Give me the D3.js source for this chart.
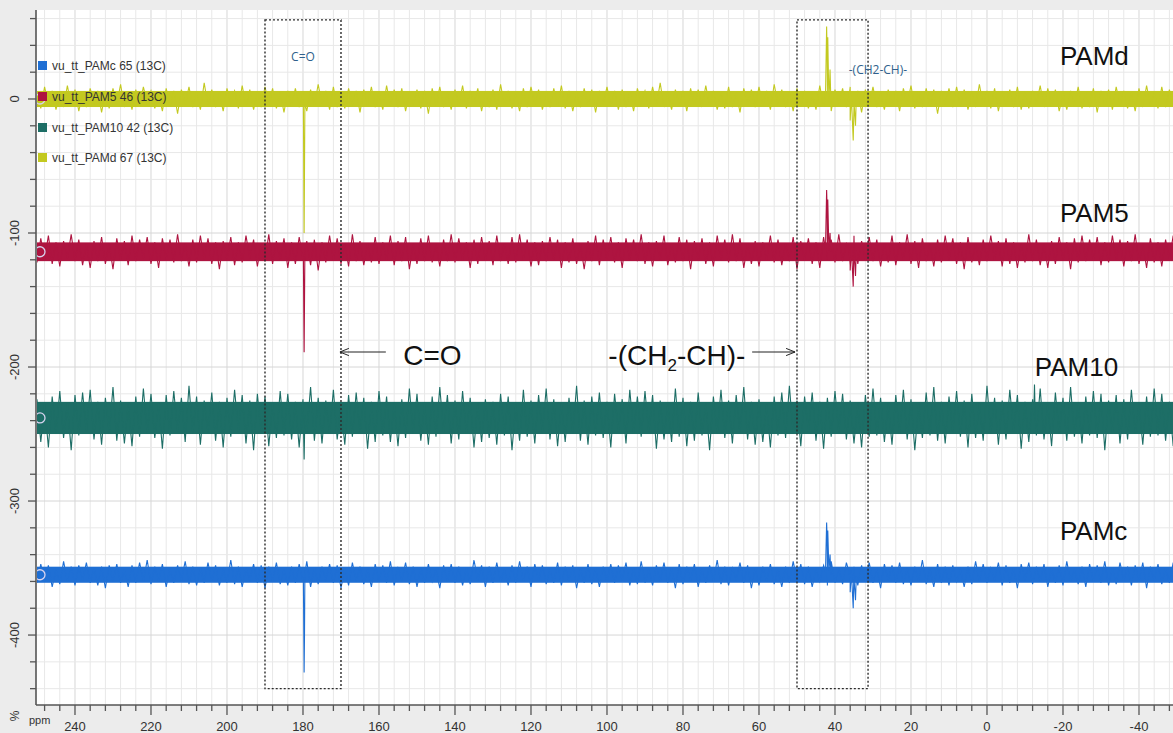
<!DOCTYPE html>
<html>
<head>
<meta charset="utf-8">
<script src="https://cdn.jsdelivr.net/npm/d3@7"></script>
<style>
  html, body { margin: 0; padding: 0; background: #ececec; }
  svg { display: block; font-family: "Liberation Sans", Arial, sans-serif; }
</style>
</head>
<body>
<svg id="chart" width="1173" height="733"></svg>
<script>
// ---- Spectra: 13C stacked plot, four samples ----
const seriesNames = ["PAMc", "PAM5", "PAM10", "PAMd"];
const legendLabels = ["vu_tt_PAMc 65 (13C)", "vu_tt_PAM5 46 (13C)", "vu_tt_PAM10 42 (13C)", "vu_tt_PAMd 67 (13C)"];
const seriesColors = ["#1f6fd4", "#ae1440", "#1d6e66", "#c3c920"];
// vertical offset (%) of each stacked trace
const baselines = [-355, -114, -238, 0];
// typical noise half-width (%) of each trace
const noiseLevels = [6, 7, 12, 6];

// noise excursions from the baseline, sampled every 1 ppm from 250 ppm downward
const noiseStartPpm = 250;
const noiseStepPpm = 1;
const noisePAMc = [
  -6,8,-5,7,-9,4,-7,10,-5,6,-8,7,-4,9,-6,5,-8,6,-10,7,
  -5,8,-6,4,-9,7,-6,9,-5,11,-7,6,-5,8,-9,5,-6,7,-4,10,
  -7,6,-8,5,-6,9,-5,7,-8,4,-6,11,-7,6,-9,5,-4,8,-6,7,
  -10,6,-5,9,-7,4,-8,6,-6,8,-5,10,-9,5,-7,6,-4,8,-6,7,
  -10,5,-8,9,-5,6,-7,4,-9,8,-5,7,-6,10,-8,5,-4,9,-7,6,
  -9,5,-6,8,-5,4,-10,7,-5,8,-6,6,-8,5,-7,11,-4,7,-9,6,
  -6,9,-5,4,-8,7,-6,10,-5,6,-9,8,-4,7,-7,5,-6,9,-8,6,
  -5,7,-10,4,-6,8,-7,5,-9,6,-5,8,-6,7,-4,9,-8,5,-7,10,
  -6,4,-8,7,-5,9,-6,5,-10,8,-7,6,-4,8,-9,5,-6,7,-5,11,
  -7,6,-8,5,-4,9,-6,7,-10,5,-8,6,-5,8,-7,4,-9,6,-6,10,
  -5,8,-7,6,-9,4,-5,7,-8,10,-6,5,-7,9,-4,6,-8,7,-5,9,
  -6,5,-10,8,-4,7,-6,9,-7,5,-8,6,-5,11,-7,4,-9,8,-6,6,
  -8,7,-5,4,-9,6,-7,10,-5,8,-6,5,-4,9,-8,7,-6,5,-10,8,
  -4,9,-7,6,-5,8,-9,5,-6,7,-8,10,-5,4,-7,6,-9,8,-5,7,
  -6,10,-8,5,-7,9,-4,6,-8,7,-5,9,-10,6,-4,8,-7,5,-6,9,
  -5];
const noisePAM5 = [
  -8,10,-6,12,-9,7,-11,8,-5,13,-7,9,-10,6,-12,8,-7,11,-9,6,
  -13,10,-6,8,-10,12,-7,9,-5,11,-9,7,-12,10,-6,9,-8,13,-7,6,
  -11,9,-8,12,-6,10,-9,7,-13,8,-6,11,-10,7,-8,12,-5,9,-11,6,
  -7,13,-9,8,-6,10,-12,7,-9,11,-6,8,-10,9,-14,7,-8,12,-6,10,
  -9,6,-11,13,-7,8,-10,6,-8,11,-9,7,-6,12,-10,8,-7,11,-13,6,
  -9,10,-7,12,-8,6,-11,9,-7,13,-8,10,-6,7,-12,9,-9,11,-6,8,
  -10,12,-7,6,-9,11,-8,13,-6,9,-11,7,-10,8,-7,11,-6,9,-12,7,
  -8,10,-9,6,-13,8,-7,12,-10,9,-6,11,-8,7,-12,10,-6,9,-7,13,
  -9,7,-11,8,-6,12,-10,6,-8,11,-7,9,-13,8,-6,10,-9,7,-11,12,
  -6,9,-8,13,-7,10,-12,6,-9,8,-11,7,-6,12,-8,9,-10,6,-7,11,
  -13,8,-6,10,-9,7,-12,11,-6,9,-8,13,-7,6,-10,12,-9,8,-6,11,
  -7,9,-11,6,-8,12,-10,7,-6,13,-9,8,-12,10,-7,6,-11,9,-8,12,
  -6,10,-9,7,-13,11,-8,6,-10,9,-7,12,-6,8,-11,10,-9,7,-12,6,
  -8,13,-7,9,-10,6,-12,8,-9,11,-6,7,-13,10,-8,12,-7,9,-6,11,
  -10,7,-8,12,-6,9,-11,8,-7,13,-9,6,-12,10,-8,7,-11,9,-6,12,
  -7];
const noisePAM10 = [
  14,-18,10,-22,16,-12,20,-15,11,-24,17,-13,19,-10,21,-16,12,-20,15,-11,
  23,-17,13,-19,10,-21,16,-14,22,-12,18,-15,11,-23,17,-13,20,-10,15,-18,
  24,-12,16,-20,13,-11,19,-17,12,-22,15,-14,21,-10,17,-19,13,-24,18,-12,
  16,-21,11,-15,20,-13,18,-16,12,-22,14,-11,23,-17,15,-19,13,-12,21,-16,
  10,-20,17,-14,19,-11,15,-23,12,-18,20,-13,16,-18,11,-21,14,-15,22,-12,
  18,-17,10,-20,16,-14,23,-11,17,-19,13,-16,20,-12,15,-22,11,-18,14,-15,
  12,-20,18,-13,16,-24,10,-17,21,-14,13,-19,17,-11,22,-16,14,-21,11,-18,
  15,-12,24,-17,13,-20,16,-13,19,-15,12,-22,18,-10,14,-19,21,-12,16,-14,
  20,-11,17,-23,13,-16,10,-18,22,-14,15,-21,12,-17,19,-13,11,-24,16,-12,
  21,-15,13,-19,17,-11,23,-16,12,-20,14,-18,10,-22,16,-13,19,-15,24,-12,
  13,-21,16,-10,19,-17,12,-23,15,-14,20,-11,18,-16,13,-19,11,-22,17,-14,
  22,-13,15,-18,11,-20,17,-12,21,-16,14,-24,10,-15,19,-13,23,-17,12,-19,
  16,-11,20,-14,13,-22,18,-15,11,-17,24,-12,15,-20,13,-16,21,-10,17,-23,
  12,-18,14,-13,22,-16,10,-21,19,-12,15,-17,23,-14,11,-19,16,-13,20,-15,
  18,-24,13,-11,17,-19,14,-16,21,-12,10,-20,16,-14,22,-13,18,-17,12,-21,
  15];
const noisePAMd = [
  5,-7,9,-4,6,-8,3,-6,10,-5,7,-9,4,-6,8,-3,6,-10,5,-7,
  8,-4,11,-6,5,-8,7,-5,9,-3,6,-7,4,-9,8,-5,6,-11,7,-4,
  9,-6,5,-8,12,-5,7,-6,4,-9,8,-3,6,-7,10,-5,7,-8,5,-6,
  9,-4,8,-7,5,-10,6,-5,8,-6,4,-9,7,-5,11,-4,6,-8,9,-6,
  5,-7,8,-4,6,-10,7,-5,9,-6,4,-8,10,-5,7,-6,8,-9,5,-4,
  7,-7,6,-11,8,-5,9,-6,4,-8,7,-5,10,-7,6,-4,8,-9,5,-6,
  7,-8,11,-5,6,-7,4,-9,8,-6,9,-4,7,-8,5,-6,8,-5,10,-7,
  6,-9,4,-6,8,-5,7,-10,6,-4,9,-5,6,-8,7,-6,5,-9,8,-3,
  6,-7,9,-5,12,-6,4,-8,7,-5,6,-9,8,-4,7,-6,10,-5,6,-8,
  4,-7,9,-6,5,-10,8,-4,7,-6,9,-5,6,-8,11,-4,7,-6,5,-9,
  8,-5,6,-7,4,-8,10,-6,5,-9,7,-4,8,-6,9,-5,6,-10,7,-5,
  9,-6,4,-8,7,-5,6,-9,8,-4,10,-7,5,-6,8,-5,7,-11,6,-4,
  8,-6,9,-5,7,-8,4,-6,11,-5,6,-7,8,-9,5,-4,7,-6,9,-8,
  5,-7,6,-4,10,-6,8,-5,7,-9,4,-8,6,-5,9,-7,5,-6,8,-10,
  6,-5,7,-8,9,-4,6,-7,5,-9,8,-6,10,-5,4,-7,9,-6,7,-5,
  8];
const noiseSets = [noisePAMc, noisePAM5, noisePAM10, noisePAMd];

// resolved signals: [ppm, intensity %]
const peaksPAMc = [[179.9,-357],[179.75,-408],[179.7,-428],[179.6,-400],[179.5,-354],
  [42.5,-353],[42.2,-316],[42.05,-330],[41.9,-322],[41.6,-352],[41.3,-340],[41.1,-355],
  [36.3,-353],[36.0,-368],[35.7,-352],[35.2,-380],[34.9,-362],[34.6,-374],[34.4,-356]];
const peaksPAM5 = [[179.9,-116],[179.7,-189],[179.5,-113],
  [42.5,-112],[42.2,-68],[42.05,-85],[41.9,-75],[41.6,-113],[41.3,-100],[41.1,-114],
  [36.3,-112],[36.0,-128],[35.7,-110],[35.2,-140],[34.9,-118],[34.6,-132],[34.4,-113]];
const peaksPAM10 = [[179.9,-240],[179.7,-269],[179.5,-236],
  [-12.3,-236],[-12.5,-213],[-12.7,-238]];
const peaksPAMd = [[179.9,-2],[179.7,-100],[179.5,-3],
  [42.5,2],[42.2,54],[42.05,30],[41.9,46],[41.6,-3],[41.3,22],[41.1,0],
  [36.3,2],[36.0,-16],[35.7,3],[35.2,-31],[34.9,-6],[34.6,-20],[34.4,1]];
const peakSets = [peaksPAMc, peaksPAM5, peaksPAM10, peaksPAMd];

// trace name labels on the right: [ppm, %]
const nameLabelPos = [[-19.2, -329], [-19.2, -92], [-12.6, -207], [-19.2, 25]];

// axis ticks
const xMajorTicks = [240, 220, 200, 180, 160, 140, 120, 100, 80, 60, 40, 20, 0, -20, -40];
const yMajorTicks = [0, -100, -200, -300, -400];
const xMinorStep = 4;
const yMinorStep = 20;

// highlighted regions (ppm ranges) and their small captions
const regionRanges = [[190, 170], [50, 31.3]];
const regionSpan = [59, -440];
const regionCaptions = ["C=O", "-(CH2-CH)-"];
const regionCaptionPos = [[180, 28], [28.7, 19]];

// ---- layout ----
const plot = { left: 36, right: 1173, top: 10, bottom: 705 };
const svg = d3.select("#chart");

const x = d3.scaleLinear().domain([250.26, -48.95]).range([plot.left, plot.right]);
const y = d3.scaleLinear().domain([66.4, -452.2]).range([plot.top, plot.bottom]);

// plotting area
svg.append("rect").attr("x", plot.left).attr("y", plot.top)
  .attr("width", plot.right - plot.left).attr("height", plot.bottom - plot.top)
  .attr("fill", "#ffffff");

svg.append("clipPath").attr("id", "plotClip").append("rect")
  .attr("x", plot.left + 1).attr("y", plot.top)
  .attr("width", plot.right - plot.left).attr("height", plot.bottom - plot.top);

// grid
const xMinor = d3.range(248, -49, -xMinorStep);
const yMinor = d3.range(60, -452, -yMinorStep);
const grid = svg.append("g");
grid.selectAll("line.gx").data(xMinor).join("line")
  .attr("x1", d => x(d)).attr("x2", d => x(d))
  .attr("y1", plot.top).attr("y2", plot.bottom)
  .attr("stroke", d => d % 20 === 0 ? "#d6d6d6" : "#e8e8e8").attr("stroke-width", 1);
grid.selectAll("line.gy").data(yMinor).join("line")
  .attr("x1", plot.left).attr("x2", plot.right)
  .attr("y1", d => y(d)).attr("y2", d => y(d))
  .attr("stroke", d => d % 100 === 0 ? "#d6d6d6" : "#e8e8e8").attr("stroke-width", 1);

// traces
const traces = svg.append("g").attr("clip-path", "url(#plotClip)");
const line = d3.line().x(d => x(d[0])).y(d => y(d[1]));

seriesNames.forEach((name, i) => {
  const base = baselines[i];
  const pts = noiseSets[i].map((v, k) => [noiseStartPpm - k * noiseStepPpm, base + v]);
  const all = pts.concat(peakSets[i]).sort((a, b) => b[0] - a[0]);
  const g = traces.append("g");
  // dense noise core
  g.append("rect")
    .attr("x", plot.left).attr("width", plot.right - plot.left)
    .attr("y", y(base + noiseLevels[i])).attr("height", y(base - noiseLevels[i]) - y(base + noiseLevels[i]))
    .attr("fill", seriesColors[i]);
  g.append("path").datum(all)
    .attr("d", line)
    .attr("fill", "none")
    .attr("stroke", seriesColors[i])
    .attr("stroke-width", 1.1)
    .attr("stroke-linejoin", "miter");
  // baseline handle marker
  g.append("circle").attr("cx", plot.left + 4).attr("cy", y(base)).attr("r", 5)
    .attr("fill", "none").attr("stroke", "#d7d3ef").attr("stroke-width", 1.3);
});

// highlighted regions
const regions = svg.append("g");
regionRanges.forEach((r, i) => {
  regions.append("rect")
    .attr("x", x(r[0])).attr("y", y(regionSpan[0]))
    .attr("width", x(r[1]) - x(r[0])).attr("height", y(regionSpan[1]) - y(regionSpan[0]))
    .attr("fill", "none").attr("stroke", "#2b2b2b").attr("stroke-width", 1.4)
    .attr("stroke-dasharray", "2,2");
  regions.append("text")
    .attr("x", x(regionCaptionPos[i][0])).attr("y", y(regionCaptionPos[i][1]))
    .attr("text-anchor", "middle")
    .attr("font-size", 12).attr("fill", "#2f5f8c")
    .attr("font-family", "'Open Sans', 'DejaVu Sans', sans-serif")
    .text(regionCaptions[i]);
});

// trace names
seriesNames.forEach((name, i) => {
  svg.append("text")
    .attr("x", x(nameLabelPos[i][0])).attr("y", y(nameLabelPos[i][1]))
    .attr("font-size", 26).attr("fill", "#111")
    .text(name);
});

// arrow annotations
const defs = svg.append("defs");
defs.append("marker").attr("id", "openArrow")
  .attr("viewBox", "0 0 10 10").attr("refX", 10).attr("refY", 5)
  .attr("markerWidth", 9).attr("markerHeight", 9).attr("orient", "auto")
  .attr("markerUnits", "userSpaceOnUse")
  .append("path").attr("d", "M0,1 L10,5 L0,9")
  .attr("fill", "none").attr("stroke", "#222").attr("stroke-width", 1.1);

const arrowY = -188.8;
const arrows = [[158.2, 170.3], [61.8, 50.5]];
arrows.forEach(a => {
  svg.append("line")
    .attr("x1", x(a[0])).attr("x2", x(a[1]))
    .attr("y1", y(arrowY)).attr("y2", y(arrowY))
    .attr("stroke", "#222").attr("stroke-width", 1.1)
    .attr("marker-end", "url(#openArrow)");
});
svg.append("text").attr("x", x(153.6)).attr("y", y(-198.5))
  .attr("font-size", 28).attr("fill", "#111").text("C=O");
const chText = svg.append("text").attr("x", x(63.6)).attr("y", y(-198.5))
  .attr("text-anchor", "end").attr("font-size", 28).attr("fill", "#111");
chText.append("tspan").text("-(CH");
chText.append("tspan").attr("font-size", 17).attr("dy", 6).text("2");
chText.append("tspan").attr("dy", -6).text("-CH)-");

// legend
const legend = svg.append("g");
const legendY = [66, 97, 128, 158];
legendLabels.forEach((lab, i) => {
  legend.append("rect").attr("x", 38).attr("y", legendY[i] - 5).attr("width", 9).attr("height", 9)
    .attr("fill", seriesColors[i]);
  legend.append("text").attr("x", 52).attr("y", legendY[i] + 4)
    .attr("font-size", 12).attr("fill", "#333").text(lab);
});

// axes
const axisColor = "#555";
const ax = svg.append("g");
ax.append("line").attr("x1", plot.left).attr("x2", plot.right).attr("y1", plot.bottom).attr("y2", plot.bottom)
  .attr("stroke", axisColor).attr("stroke-width", 1.6);
ax.append("line").attr("x1", plot.left).attr("x2", plot.left).attr("y1", plot.top).attr("y2", plot.bottom)
  .attr("stroke", axisColor).attr("stroke-width", 1.6);

ax.selectAll("line.xt").data(xMinor).join("line")
  .attr("x1", d => x(d)).attr("x2", d => x(d))
  .attr("y1", plot.bottom).attr("y2", d => plot.bottom + (xMajorTicks.includes(d) ? 10 : 6))
  .attr("stroke", axisColor).attr("stroke-width", 1.3);
ax.selectAll("text.xl").data(xMajorTicks).join("text")
  .attr("x", d => x(d)).attr("y", 731)
  .attr("text-anchor", "middle").attr("font-size", 13).attr("fill", "#333")
  .text(d => d);
ax.append("text").attr("x", 29).attr("y", 724).attr("font-size", 11).attr("fill", "#333").text("ppm");

ax.selectAll("line.yt").data(yMinor).join("line")
  .attr("x1", plot.left).attr("x2", d => plot.left - (yMajorTicks.includes(d) ? 8 : 6))
  .attr("y1", d => y(d)).attr("y2", d => y(d))
  .attr("stroke", axisColor).attr("stroke-width", 1.3);
ax.selectAll("text.yl").data(yMajorTicks).join("text")
  .attr("transform", d => `translate(19,${y(d)}) rotate(-90)`)
  .attr("text-anchor", "middle").attr("font-size", 13).attr("fill", "#333")
  .text(d => d);
ax.append("text").attr("transform", "translate(19,716) rotate(-90)")
  .attr("text-anchor", "middle").attr("font-size", 12).attr("fill", "#333").text("%");
</script>
</body>
</html>
